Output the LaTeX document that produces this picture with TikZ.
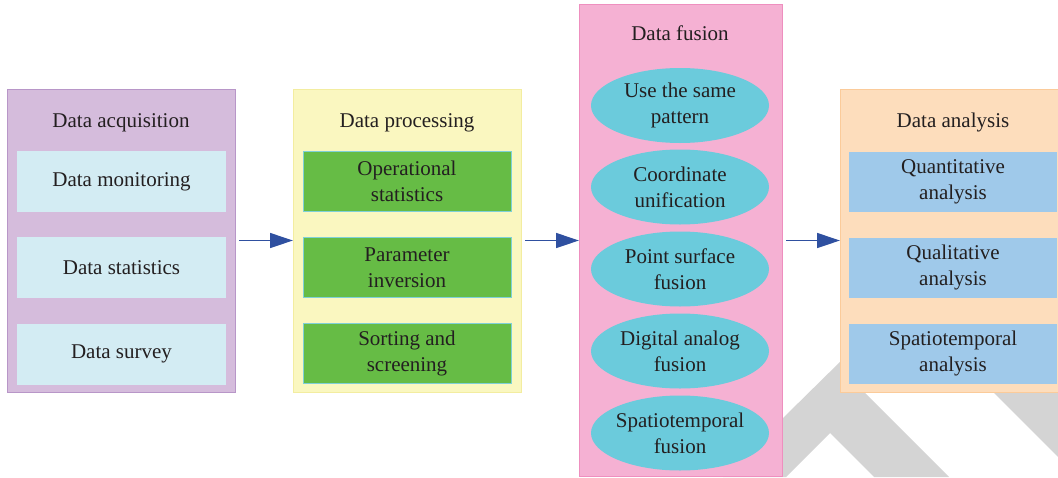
\documentclass[tikz,border=0pt]{standalone}
\usepackage{fontspec}
\setmainfont{Liberation Serif}
\usetikzlibrary{shapes.geometric,arrows.meta}
\definecolor{txt}{HTML}{231F20}
\definecolor{purp}{HTML}{D5BCDC}
\definecolor{purpd}{HTML}{B896C8}
\definecolor{lcyan}{HTML}{D3ECF3}
\definecolor{yel}{HTML}{FAF7C0}
\definecolor{yeld}{HTML}{F3EDA0}
\definecolor{grn}{HTML}{66BC45}
\definecolor{grnd}{HTML}{7FD0D8}
\definecolor{pnk}{HTML}{F5B1D3}
\definecolor{pnkd}{HTML}{EE8FBF}
\definecolor{ecyan}{HTML}{6BCBDC}
\definecolor{org}{HTML}{FDDDBC}
\definecolor{orgd}{HTML}{FBCB9A}
\definecolor{blu}{HTML}{9FC9EA}
\definecolor{arrc}{HTML}{2F50A0}
\definecolor{wm}{HTML}{D4D4D4}
\newcommand\myfs{\fontsize{21}{26}\selectfont}
\begin{document}
\begin{tikzpicture}[x=1pt,y=-1pt,
  panel/.style={rectangle, line width=0.9pt, inner sep=0pt, outer sep=0pt},
  ttl/.style={anchor=base, font=\myfs, text=txt, inner sep=0pt},
  item/.style={rectangle, inner sep=0pt, outer sep=0pt, align=center, font=\myfs, text=txt,
    minimum width=208pt, minimum height=60pt},
  oval/.style={ellipse, fill=ecyan, inner xsep=-3pt, inner ysep=0pt, align=center, font=\myfs, text=txt,
    minimum width=178pt, minimum height=75pt},
  arr/.style={draw=arrc, line width=1.3pt, -{Triangle[length=23pt,width=15pt]}, shorten <=4pt}]
\useasboundingbox (0,0) rectangle (1058,477);
\clip (0,0) rectangle (1058,477);
% watermark
\fill[wm] (723,477) -- (845,357) -- (860,357) -- (862,390) -- (949,477) -- (874,477) -- (830,433) -- (786,477) -- cycle;
\fill[wm] (901,300) -- (1058,457) -- (1058,300) -- cycle;
% panel 1
\node[panel, fill=purp, draw=purpd, minimum width=228pt, minimum height=303pt] (acq) at (121,240.5) {};
\node[ttl] (acqT) at (121,127) {Data acquisition};
\node[item, fill=lcyan, minimum width=209pt, minimum height=61pt] (mon) at (121.5,181.5) {Data monitoring};
\node[item, fill=lcyan, minimum width=209pt, minimum height=61pt] (sta) at (121.5,267.5) {Data statistics};
\node[item, fill=lcyan, minimum width=209pt, minimum height=61pt] (sur) at (121.5,354) {Data survey};
% panel 2
\node[panel, fill=yel, draw=yeld, minimum width=228pt, minimum height=303pt] (proc) at (407,240.5) {};
\node[ttl] (procT) at (407,127) {Data processing};
\node[item, fill=grn, draw=grnd, line width=0.9pt] (ops) at (407,181.5) {Operational\\statistics};
\node[item, fill=grn, draw=grnd, line width=0.9pt] (par) at (407,267.5) {Parameter\\inversion};
\node[item, fill=grn, draw=grnd, line width=0.9pt] (srt) at (407,353.5) {Sorting and\\screening};
% panel 3
\node[panel, fill=pnk, draw=pnkd, minimum width=203pt, minimum height=472pt] (fus) at (680.5,240.5) {};
\node[ttl] (fusT) at (680,40.7) {Data fusion};
\node[oval] (e1) at (680,105.5) {Use the same\\pattern};
\node[oval] (e2) at (680,187) {Coordinate\\unification};
\node[oval] (e3) at (680,269) {Point surface\\fusion};
\node[oval] (e4) at (680,351) {Digital analog\\fusion};
\node[oval] (e5) at (680,433) {Spatiotemporal\\fusion};
% panel 4
\node[panel, fill=org, draw=orgd, minimum width=228pt, minimum height=303pt] (ana) at (954,240.5) {};
\node[ttl] (anaT) at (953,127) {Data analysis};
\node[item, fill=blu] (qn) at (953,181.5) {Quantitative\\analysis};
\node[item, fill=blu] (ql) at (953,267.5) {Qualitative\\analysis};
\node[item, fill=blu] (sp) at (953,353.5) {Spatiotemporal\\analysis};
% arrows
\draw[arr] (acq) -- (proc);
\draw[arr] (proc) -- (fus);
\draw[arr] (fus) -- (ana);
\end{tikzpicture}
\end{document}
